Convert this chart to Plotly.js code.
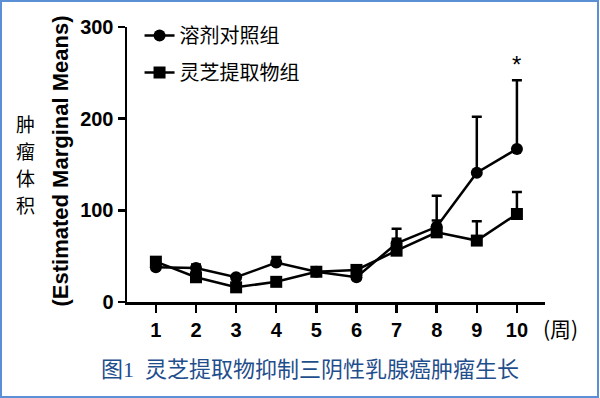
<!DOCTYPE html>
<html>
<head>
<meta charset="utf-8">
<script src="https://cdn.plot.ly/plotly-3.0.1.min.js"></script>
<style>
  html, body { margin: 0; padding: 0; background: #ffffff; }
  #wrap { position: relative; width: 600px; height: 398px; }
  #chart { width: 600px; height: 398px; }
  #frame { position: absolute; left: 0; top: 0; width: 599px; height: 398px; box-sizing: border-box; border: 2px solid #5b8fd6; pointer-events: none; }
</style>
</head>
<body>
<div id="wrap">
  <div id="chart"></div>
  <div id="frame"></div>
</div>
<script>
// Data
const weeks = [1, 2, 3, 4, 5, 6, 7, 8, 9, 10];
const weekLabels = ["1", "2", "3", "4", "5", "6", "7", "8", "9", "10"];
const controlName = "溶剂对照组";
const controlMean = [38, 37, 27, 43, 33, 27, 64, 82, 141, 167];
const controlErr  = [2, 4, 2, 6, 2, 2, 16, 34, 61, 75];
const extractName = "灵芝提取物组";
const extractMean = [44, 27, 16, 22, 33, 35, 56, 76, 67, 96];
const extractErr  = [2, 5, 2, 2, 2, 3, 13, 13, 21, 24];
const yTicks = [0, 100, 200, 300];
const sigWeek = 10;
const sigLabel = "*";
const yTitleChars = ["肿", "瘤", "体", "积"];

const cjk = '"Noto Sans CJK SC", "Noto Sans", sans-serif';
const bold = 'Arial, "Liberation Sans", sans-serif';

function zeros(n) { return new Array(n).fill(0); }

const common = {
  type: 'scatter',
  mode: 'lines+markers',
  line: { color: '#000000', width: 2.5 },
  cliponaxis: false
};

const traces = [
  Object.assign({}, common, {
    name: controlName,
    x: weeks, y: controlMean,
    legendgroup: 'a',
    marker: { symbol: 'circle', size: 12, color: '#000000' },
    error_y: { type: 'data', symmetric: false, array: controlErr, arrayminus: zeros(controlErr.length),
               color: '#000000', thickness: 2.5, width: 5 }
  }),
  Object.assign({}, common, {
    name: extractName,
    x: weeks, y: extractMean,
    legendgroup: 'b',
    marker: { symbol: 'square', size: 12, color: '#000000' },
    error_y: { type: 'data', symmetric: false, array: extractErr, arrayminus: zeros(extractErr.length),
               color: '#000000', thickness: 2.5, width: 5 }
  })
];

const annotations = [
  { xref: 'paper', yref: 'paper', x: 0, y: 0.5, xanchor: 'center', yanchor: 'middle',
    xshift: -67, yshift: 3, textangle: -90, showarrow: false,
    text: '(Estimated Marginal Means)',
    font: { family: bold, size: 22, color: '#000000', weight: 700 } },
  { xref: 'paper', yref: 'paper', x: 1, y: 0, xanchor: 'left', yanchor: 'middle',
    xshift: -4, yshift: -26, showarrow: false,
    text: '(周)',
    font: { family: cjk, size: 21, color: '#000000' } },
  { xref: 'x', yref: 'y', x: sigWeek, y: controlMean[9] + controlErr[9], yanchor: 'bottom',
    yshift: 0, showarrow: false, text: sigLabel,
    font: { family: bold, size: 24, color: '#000000' } },
  { xref: 'paper', yref: 'paper', x: 0.438, y: 0, xanchor: 'center', yanchor: 'middle',
    yshift: -67, showarrow: false,
    text: '图1  灵芝提取物抑制三阴性乳腺癌肿瘤生长',
    font: { family: '"Liberation Serif", "Noto Sans CJK SC", serif', size: 22, color: '#1f4e8c' } }
];
const charShifts = [41, 14, -13, -40];
yTitleChars.forEach(function (ch, i) {
  annotations.push({ xref: 'paper', yref: 'paper', x: 0, y: 0.5, xanchor: 'center', yanchor: 'middle',
    xshift: -102, yshift: charShifts[i], showarrow: false, text: ch,
    font: { family: cjk, size: 19, color: '#000000' } });
});

const layout = {
  width: 600, height: 398,
  margin: { l: 127, r: 55, t: 27, b: 96 },
  paper_bgcolor: '#ffffff',
  plot_bgcolor: '#ffffff',
  showlegend: true,
  legend: {
    x: 0.03, y: 1.04, xanchor: 'left', yanchor: 'top',
    font: { family: cjk, size: 20, color: '#000000' },
    bgcolor: 'rgba(0,0,0,0)',
    tracegroupgap: 8,
    itemwidth: 30
  },
  xaxis: {
    range: [0.28, 10.7],
    tickvals: weeks, ticktext: weekLabels,
    showline: true, linecolor: '#000000', linewidth: 2.5,
    ticks: 'outside', ticklen: 8, tickwidth: 2.5, tickcolor: '#000000',
    showgrid: false, zeroline: false,
    tickfont: { family: bold, size: 20, color: '#000000', weight: 700 }
  },
  yaxis: {
    range: [0, 300],
    tickvals: yTicks,
    showline: true, linecolor: '#000000', linewidth: 2.5,
    ticks: 'outside', ticklen: 7, tickwidth: 2.5, tickcolor: '#000000',
    showgrid: false, zeroline: false,
    tickfont: { family: bold, size: 20, color: '#000000', weight: 700 }
  },
  annotations: annotations
};

Plotly.newPlot('chart', traces, layout, { displayModeBar: false, staticPlot: true });
</script>
</body>
</html>
